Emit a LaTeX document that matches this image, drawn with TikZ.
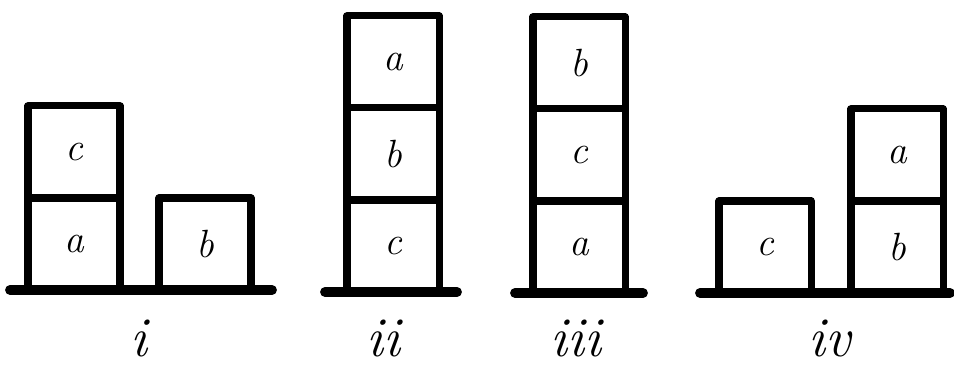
\documentclass[tikz,border=0pt]{standalone}
\usepackage{tikz}
\usetikzlibrary{positioning}

\begin{document}
\begin{tikzpicture}[
  x=0.025cm, y=-0.025cm,
  box/.style={draw, line width=5pt, line join=round, minimum width=2.3cm,
    minimum height=2.3cm, inner sep=0pt, outer sep=0pt,
    font=\fontsize{28}{30}\selectfont\itshape},
  ground/.style={line width=7pt, line cap=round},
  stackname/.style={font=\fontsize{40}{44}\selectfont\itshape}
]
\useasboundingbox (0,0) rectangle (954,371);

% i
\draw[ground] (10,290) -- (272,290);
\node[box] (a1) at (74,244) {a};
\node[box, above=0pt of a1] (c1) {c};
\node[box] (b1) at (205,244) {b};
\node[stackname] (n1) at (139,338) {i};

% ii
\draw[ground] (325,292) -- (457,292);
\node[box] (c2) at (393,246) {c};
\node[box, above=0pt of c2] (b2) {b};
\node[box, above=0pt of b2] (a2) {a};
\node[stackname] (n2) at (383,338) {ii};

% iii
\draw[ground] (515,293) -- (643,293);
\node[box] (a3) at (579,247) {a};
\node[box, above=0pt of a3] (c3) {c};
\node[box, above=0pt of c3] (b3) {b};
\node[stackname] (n3) at (576,338) {iii};

% iv
\draw[ground] (700,293) -- (950,293);
\node[box] (c4) at (765,247) {c};
\node[box] (b4) at (897,247) {b};
\node[box, above=0pt of b4] (a4) {a};
\node[stackname] (n4) at (830,338) {iv};
\end{tikzpicture}
\end{document}
